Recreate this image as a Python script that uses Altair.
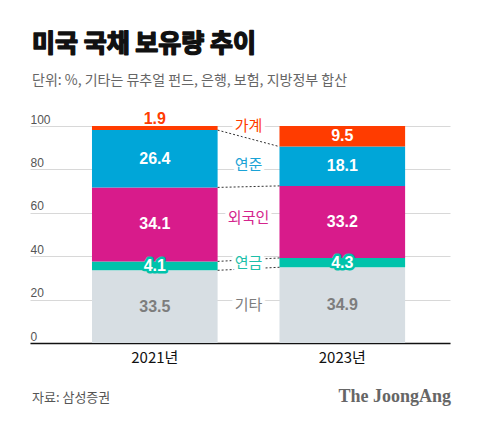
import altair as alt
import pandas as pd

# ---- data -------------------------------------------------------------
years = ["2021년", "2023년"]
holders = ["기타", "연금", "외국인", "연준", "가계"]          # bottom -> top
share_2021 = [33.5, 4.1, 34.1, 26.4, 1.9]
share_2023 = [34.9, 4.3, 33.2, 18.1, 9.5]
y_ticks = [0, 20, 40, 60, 80, 100]
holder_label_y = [17.5, 36.9, 57.6, 82.0, 100.0]   # where the middle names sit

title_text = "미국 국채 보유량 추이"
subtitle_text = "단위: %, 기타는 뮤추얼 펀드, 은행, 보험, 지방정부 합산"
source_text = "자료: 삼성증권"
brand_text = "The JoongAng"

# ---- styles -----------------------------------------------------------
bar_colors = ["#d7dee3", "#00c3ab", "#d81b8b", "#00a6d8", "#ff3c00"]
name_colors = ["#7d7d7d", "#1dbfa9", "#d4248c", "#1ba3d6", "#ff3c00"]
KR = "Noto Sans CJK KR"
NUM = "Liberation Sans"

W, H = 420, 217
pad_inner, pad_outer, align = 0.33, 0.285, 0.58
step = W / (len(years) - pad_inner + 2 * pad_outer)
half_gap = pad_inner * step / 2          # offset from the first bar's right edge

# ---- tables -----------------------------------------------------------
rows = []
for yr, shares in zip(years, [share_2021, share_2023]):
    start = 0.0
    for i, (h, v) in enumerate(zip(holders, shares)):
        end = start + v
        rows.append(dict(year=yr, holder=h, order=i, value=v, start=start,
                         end=end, mid=(start + end) / 2, label=f"{v:.1f}"))
        start = end
seg = pd.DataFrame(rows)

b21 = seg[seg.year == years[0]].end.tolist()[:-1]
b23 = seg[seg.year == years[1]].end.tolist()[:-1]
conn = pd.DataFrame({"src": years[0], "dst": years[1], "y_from": b21, "y_to": b23})

names = pd.DataFrame({"holder": holders, "ypos": holder_label_y,
                      "pos": years[0], "c": name_colors})

xscale = alt.Scale(domain=years, paddingInner=pad_inner, paddingOuter=pad_outer, align=align)
yscale = alt.Scale(domain=[0, 100], nice=False)

base = alt.Chart(seg)

bars = base.mark_bar().encode(
    x=alt.X("year:N", scale=xscale, title=None,
            axis=alt.Axis(labelAngle=0, domain=True, domainColor="#111", domainWidth=1.5,
                          ticks=False, labelFont=KR, labelFontSize=15, labelColor="#111",
                          labelPadding=7, grid=False)),
    y=alt.Y("start:Q", scale=yscale, title=None,
            axis=alt.Axis(values=y_ticks, grid=True, gridColor="#d8d8d8", domain=False,
                          ticks=False, tickSize=0, labelAlign="left", labelBaseline="alphabetic",
                          labelPadding=0, labelOffset=-3, labelFont=NUM, labelFontSize=12,
                          labelColor="#555")),
    y2="end:Q",
    color=alt.Color("holder:N", scale=alt.Scale(domain=holders, range=bar_colors), legend=None),
)

connectors = alt.Chart(conn).mark_rule(strokeDash=[2, 2], color="#333", strokeWidth=1).encode(
    x=alt.X("src:N", bandPosition=1, title=None),
    x2=alt.X2("dst:N", bandPosition=0),
    y=alt.Y("y_from:Q", title=None),
    y2="y_to:Q",
)

inside = base.transform_filter(
    "(datum.holder == '외국인' || datum.holder == '연준' || datum.holder == '가계') && datum.value >= 3"
).mark_text(font=NUM, fontSize=16, fontWeight="bold", color="white", baseline="middle").encode(
    x=alt.X("year:N", title=None), y=alt.Y("mid:Q", title=None), text="label:N")

other = base.transform_filter("datum.holder == '기타'").mark_text(
    font=NUM, fontSize=16, fontWeight="bold", color="#7d7d7d", baseline="middle").encode(
    x=alt.X("year:N", title=None), y=alt.Y("mid:Q", title=None), text="label:N")

pension_halo = base.transform_filter("datum.holder == '연금'").mark_text(
    font=NUM, fontSize=16, fontWeight="bold", color="#00c3ab", stroke="#00c3ab",
    strokeWidth=5, strokeJoin="round", baseline="middle").encode(
    x=alt.X("year:N", title=None), y=alt.Y("mid:Q", title=None), text="label:N")
pension = base.transform_filter("datum.holder == '연금'").mark_text(
    font=NUM, fontSize=16, fontWeight="bold", color="white", baseline="middle").encode(
    x=alt.X("year:N", title=None), y=alt.Y("mid:Q", title=None), text="label:N")

outside = base.transform_filter("datum.holder == '가계' && datum.value < 3").mark_text(
    font=NUM, fontSize=16, fontWeight="bold", color="#ff3c00", baseline="alphabetic", dy=-2).encode(
    x=alt.X("year:N", title=None), y=alt.Y("end:Q", title=None), text="label:N")

name_halo = alt.Chart(names).mark_text(
    font=KR, fontSize=15, color="white", stroke="white", strokeWidth=8, strokeJoin="round",
    baseline="middle", dx=half_gap).encode(
    x=alt.X("pos:N", bandPosition=1, title=None), y=alt.Y("ypos:Q", title=None),
    text="holder:N")
name_text = alt.Chart(names).mark_text(font=KR, fontSize=15, baseline="middle", dx=half_gap).encode(
    x=alt.X("pos:N", bandPosition=1, title=None), y=alt.Y("ypos:Q", title=None),
    text="holder:N", color=alt.Color("c:N", scale=None))

title = alt.Chart(pd.DataFrame({"t": [title_text]})).mark_text(
    font=KR, fontSize=25, fontWeight="bold", color="#111", stroke="#111", strokeWidth=1.5,
    strokeJoin="round", align="left", baseline="alphabetic").encode(
    x=alt.value(2), y=alt.value(-74), text="t:N")
subtitle = alt.Chart(pd.DataFrame({"t": [subtitle_text]})).mark_text(
    font=KR, fontSize=14, color="#666", align="left", baseline="alphabetic").encode(
    x=alt.value(2), y=alt.value(-41), text="t:N")
source = alt.Chart(pd.DataFrame({"t": [source_text]})).mark_text(
    font=KR, fontSize=13, color="#555", align="left", baseline="alphabetic").encode(
    x=alt.value(2), y=alt.value(276), text="t:N")
brand = alt.Chart(pd.DataFrame({"t": [brand_text]})).mark_text(
    font="Liberation Serif", fontSize=18, fontWeight="bold", color="#666",
    align="right", baseline="alphabetic").encode(
    x=alt.value(421), y=alt.value(276), text="t:N")

chart = alt.layer(
    bars, connectors, inside, other, pension_halo, pension, outside,
    name_halo, name_text, title, subtitle, source, brand,
).properties(
    width=W, height=H,
    autosize=alt.AutoSizeParams(type="none"),
    padding={"left": 22, "top": 118, "right": 10, "bottom": 66},
).configure_view(stroke=None)

chart.save("out.html", embed_options={"renderer": "svg", "actions": False})
